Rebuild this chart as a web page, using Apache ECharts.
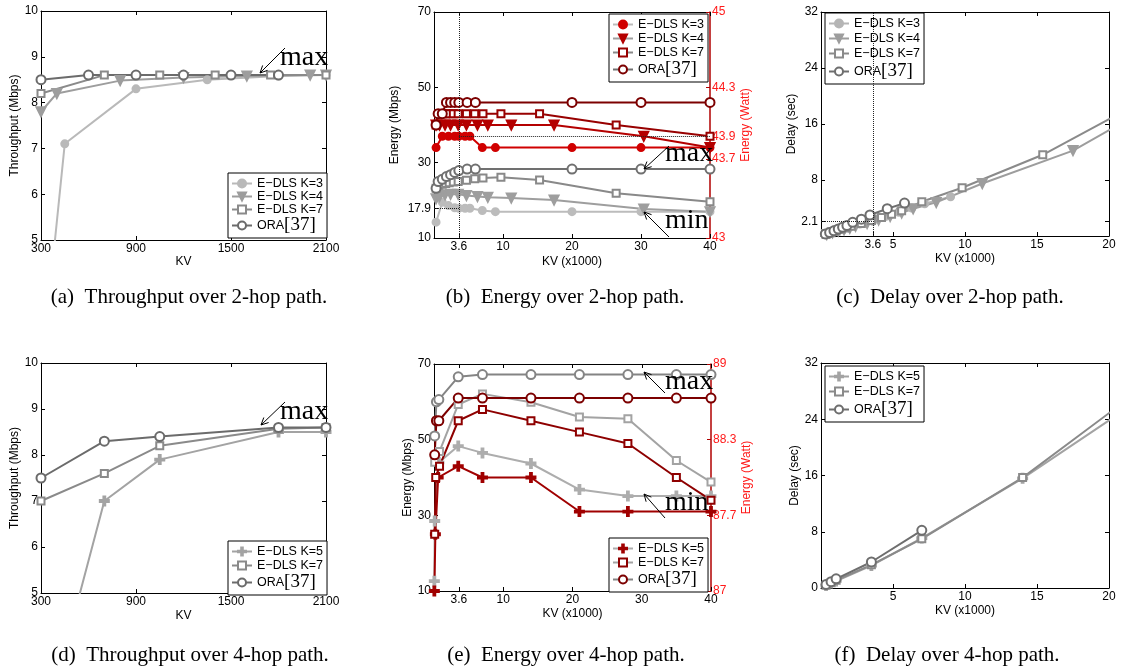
<!DOCTYPE html>
<html><head><meta charset="utf-8">
<script src="https://cdn.jsdelivr.net/npm/echarts@6/dist/echarts.min.js"></script>
<style>html,body{margin:0;padding:0;background:#fff}#c{width:1122px;height:670px}</style>
</head><body><div id="c"></div>
<script>
// ---------- names ----------
const N3 = 'E\u2212DLS K=3', N4 = 'E\u2212DLS K=4', N5 = 'E\u2212DLS K=5', N7 = 'E\u2212DLS K=7', NO = 'ORA[37]';

// ---------- (a) throughput 2-hop ----------
const a_K3_x = [300, 450, 900, 1350, 1800, 2100];
const a_K3_y = [2.0, 7.1, 8.3, 8.5, 8.58, 8.6];
const a_K4_x = [300, 400, 800, 1200, 1600, 2000, 2100];
const a_K4_y = [7.8, 8.2, 8.48, 8.55, 8.58, 8.6, 8.6];
const a_K7_x = [300, 700, 1050, 1400, 1750, 2100];
const a_K7_y = [8.2, 8.6, 8.6, 8.6, 8.6, 8.6];
const a_ORA_x = [300, 600, 900, 1200, 1500, 1800];
const a_ORA_y = [8.5, 8.6, 8.6, 8.6, 8.6, 8.6];

// ---------- (b) energy 2-hop (gray: left axis Mbps, red: right axis Watt) ----------
const b_K3_x = [0.3, 1.2, 2.1, 3.0, 3.6, 4.5, 5.2, 7.0, 8.9, 20, 30, 40];
const b_K3_g = [14.2, 19.5, 18.6, 18.0, 17.9, 17.9, 17.9, 17.3, 17.0, 17.0, 17.0, 17.0];
const b_K3_r = [43.8, 43.9, 43.9, 43.9, 43.9, 43.9, 43.9, 43.8, 43.8, 43.8, 43.8, 43.8];
const b_K4_x = [0.3, 0.8, 1.6, 2.4, 3.5, 4.7, 6.3, 7.8, 11.2, 17.4, 30.4, 40];
const b_K4_g = [20.4, 21.0, 21.5, 21.6, 21.6, 21.3, 21.0, 20.8, 20.6, 20.1, 17.7, 17.0];
const b_K4_r = [44.0, 44.0, 44.0, 44.0, 44.0, 44.0, 44.0, 44.0, 44.0, 44.0, 43.9, 43.8];
const b_K7_x = [0.3, 0.7, 1.2, 1.7, 2.2, 2.8, 3.5, 4.7, 5.9, 7.1, 9.7, 15.3, 26.4, 40];
const b_K7_g = [23.2, 24.0, 24.3, 24.5, 24.7, 24.9, 25.0, 25.3, 25.7, 25.9, 26.1, 25.4, 21.9, 19.6];
const b_K7_r = [44.0, 44.1, 44.1, 44.1, 44.1, 44.1, 44.1, 44.1, 44.1, 44.1, 44.1, 44.1, 44.0, 43.9];
const b_ORA_x = [0.3, 0.6, 1.2, 1.8, 2.4, 3.0, 3.6, 4.8, 6.0, 20, 30, 40];
const b_ORA_g = [23.2, 25.0, 25.6, 26.3, 26.8, 27.4, 27.9, 28.3, 28.3, 28.3, 28.3, 28.3];
const b_ORA_r = [44.0, 44.1, 44.1, 44.2, 44.2, 44.2, 44.2, 44.2, 44.2, 44.2, 44.2, 44.2];

// ---------- (c) delay 2-hop ----------
const c_K3_x = [0.3, 0.6, 0.9, 1.2, 1.5, 2.1, 2.7, 3.6, 4.5, 5.4, 6.3, 7.2, 9.0];
const c_K3_y = [0.2, 0.4, 0.6, 0.8, 1.0, 1.4, 1.7, 2.1, 2.8, 3.4, 4.0, 4.6, 5.6];
const c_K4_x = [0.4, 0.8, 1.2, 1.6, 2.0, 2.4, 3.2, 4.0, 4.8, 5.6, 6.4, 8.0, 11.2, 17.5, 22.4];
const c_K4_y = [0.2, 0.45, 0.7, 0.9, 1.1, 1.4, 1.8, 2.3, 2.8, 3.3, 3.9, 4.8, 7.5, 12.2, 17.9];
const c_K7_x = [0.35, 0.7, 1.05, 1.4, 1.75, 2.1, 2.8, 3.5, 4.2, 4.9, 5.6, 7.0, 9.8, 15.4, 21];
const c_K7_y = [0.2, 0.45, 0.7, 0.95, 1.15, 1.4, 1.8, 2.2, 2.65, 3.1, 3.6, 4.9, 6.9, 11.6, 17.8];
const c_ORA_x = [0.3, 0.6, 0.9, 1.2, 1.5, 1.8, 2.2, 2.8, 3.4, 4.6, 5.8];
const c_ORA_y = [0.3, 0.5, 0.75, 1.0, 1.25, 1.5, 1.95, 2.4, 3.0, 3.9, 4.7];

// ---------- (d) throughput 4-hop ----------
const d_K5_x = [300, 700, 1050, 1800, 2100];
const d_K5_y = [1.8, 7.0, 7.9, 8.5, 8.5];
const d_K7_x = [300, 700, 1050, 1800, 2100];
const d_K7_y = [7.0, 7.6, 8.2, 8.57, 8.6];
const d_ORA_x = [300, 700, 1050, 1800, 2100];
const d_ORA_y = [7.5, 8.3, 8.4, 8.6, 8.6];

// ---------- (e) energy 4-hop ----------
const e_K5_gx = [0.05, 0.1, 0.7, 3.5, 7, 14, 21, 28, 35, 40];
const e_K5_g = [12.6, 28.5, 44, 48.3, 46.5, 43.7, 36.8, 35.1, 35.1, 35.1];
const e_K5_rx = [0.05, 0.2, 0.6, 3.5, 7, 14, 21, 28, 40];
const e_K5_r = [87.0, 87.5, 88.0, 88.1, 88.0, 88.0, 87.7, 87.7, 87.7];
const e_K7_gx = [0.1, 0.8, 3.5, 7, 14, 21, 28, 35, 40];
const e_K7_g = [44, 46.9, 59.3, 62.1, 59.9, 56.0, 55.5, 44.5, 38.8];
const e_K7_rx = [0.1, 0.25, 0.8, 3.5, 7, 14, 21, 28, 35, 40];
const e_K7_r = [87.5, 88.0, 88.1, 88.5, 88.6, 88.5, 88.4, 88.3, 88.0, 87.8];
const e_ORA_x = [0.1, 0.35, 0.7, 3.5, 7, 14, 21, 28, 35, 40];
const e_ORA_g = [51, 60, 60.6, 66.6, 67.2, 67.2, 67.2, 67.2, 67.2, 67.2];
const e_ORA_r = [88.2, 88.5, 88.5, 88.7, 88.7, 88.7, 88.7, 88.7, 88.7, 88.7];

// ---------- (f) delay 4-hop ----------
const f_K5_x = [0.35, 0.7, 1.05, 3.5, 7, 14, 21];
const f_K5_y = [0.35, 0.7, 1.0, 3.2, 7.1, 15.6, 25.2];
const f_K7_x = [0.35, 0.7, 1.05, 3.5, 7, 14, 21];
const f_K7_y = [0.4, 0.75, 1.1, 3.3, 7.0, 15.7, 26.4];
const f_ORA_x = [0.35, 0.7, 1.05, 3.5, 7];
const f_ORA_y = [0.5, 0.9, 1.3, 3.7, 8.2];

// ---------- tick labels ----------
const tpX = [300, 900, 1500, 2100];
const tpY = [5, 6, 7, 8, 9, 10];
const enX = [3.6, 10, 20, 30, 40];
const b_Yl = [10, 17.9, 30, 50, 70];
const b_Yr = [43, 43.7, 43.9, 44 + 1 / 3, 45];
const e_Yl = [10, 30, 50, 70];
const e_Yr = [87, 87 + 2 / 3, 87 + 4 / 3, 89];
const c_X = [3.6, 5, 10, 15, 20];
const c_Y = [2.1, 8, 16, 24, 32];
const f_X = [5, 10, 15, 20];
const f_Y = [0, 8, 16, 24, 32];

const captions = ['(a)  Throughput over 2-hop path.', '(b)  Energy over 2-hop path.', '(c)  Delay over 2-hop path.',
  '(d)  Throughput over 4-hop path.', '(e)  Energy over 4-hop path.', '(f)  Delay over 4-hop path.'];

// ---------- styling ----------
const SANS = 'Liberation Sans', SERIF = 'Liberation Serif';
const RED_LAB = '#ff1a1a', RED_AX = '#b00000';
const PLUS = 'path://M4,0H6V4H10V6H6V10H4V6H0V4H4Z';
const SYM = {};
SYM[N3] = {symbol: 'circle', size: 7};
SYM[N4] = {symbol: 'triangle', size: 9, rot: 180};
SYM[N5] = {symbol: PLUS, size: 9};
SYM[N7] = {symbol: 'emptyRect', size: 7};
SYM[NO] = {symbol: 'emptyCircle', size: 9};

const grids = [
  {left: 41, top: 11, width: 285, height: 229},
  {left: 434, top: 12, width: 276, height: 226},
  {left: 821, top: 12, width: 288, height: 224},
  {left: 41, top: 363, width: 285, height: 230},
  {left: 434, top: 364, width: 277, height: 227},
  {left: 821, top: 363, width: 288, height: 225}
];

function fmt(v) { return Math.abs(v - Math.round(v)) < 1e-6 ? String(Math.round(v)) : v.toFixed(1); }
function pairs(xs, ys) { return xs.map((x, i) => [x, ys[i]]); }

const xAxes = [], yAxes = [];
function addX(p, min, max, ticks, name, gap) {
  const base = {gridIndex: p, type: 'value', min, max, splitLine: {show: false},
    axisLine: {show: true, onZero: false, lineStyle: {color: '#000', width: 1}},
    axisTick: {show: true, inside: true, length: 4, customValues: ticks, lineStyle: {color: '#000'}}};
  xAxes.push(Object.assign({}, base, {position: 'bottom', name, nameLocation: 'middle', nameGap: gap,
    nameTextStyle: {fontFamily: SANS, fontSize: 12, color: '#000'},
    axisLabel: {show: true, customValues: ticks, formatter: fmt, margin: 3, fontFamily: SANS, fontSize: 12, color: '#000'}}));
  xAxes.push(Object.assign({}, base, {position: 'top', axisLabel: {show: false}}));
}
function addY(p, min, max, ticks, name, gap, right) {
  const base = {gridIndex: p, type: 'value', min, max, splitLine: {show: false},
    axisLine: {show: true, onZero: false, lineStyle: {color: '#000', width: 1}},
    axisTick: {show: true, inside: true, length: 4, customValues: ticks, lineStyle: {color: '#000'}}};
  yAxes.push(Object.assign({}, base, {position: 'left', name, nameLocation: 'middle', nameGap: gap,
    nameTextStyle: {fontFamily: SANS, fontSize: 12, color: '#000'},
    axisLabel: {show: true, customValues: ticks, formatter: fmt, margin: 3, fontFamily: SANS, fontSize: 12, color: '#000'}}));
  if (right) {
    yAxes.push({gridIndex: p, type: 'value', position: 'right', min: right.min, max: right.max, splitLine: {show: false},
      name: 'Energy (Watt)', nameLocation: 'middle', nameGap: 29,
      nameTextStyle: {fontFamily: SANS, fontSize: 12, color: RED_LAB},
      axisLine: {show: true, onZero: false, lineStyle: {color: RED_AX, width: 1.5}},
      axisTick: {show: true, inside: true, length: 4, customValues: right.ticks, lineStyle: {color: RED_AX}},
      axisLabel: {show: true, customValues: right.ticks, formatter: fmt, margin: 2, fontFamily: SANS, fontSize: 12, color: RED_LAB}});
  } else {
    yAxes.push(Object.assign({}, base, {position: 'right', axisLabel: {show: false}}));
  }
}

addX(0, 300, 2100, tpX, 'KV', 14);          addY(0, 5, 10, tpY, 'Throughput (Mbps)', 20);
addX(1, 0, 40, enX, 'KV (x1000)', 18);      addY(1, 10, 70, b_Yl, 'Energy (Mbps)', 33, {min: 43, max: 45, ticks: b_Yr});
addX(2, 0, 20, c_X, 'KV (x1000)', 17);      addY(2, 0, 32, c_Y, 'Delay (sec)', 22);
addX(3, 300, 2100, tpX, 'KV', 17);          addY(3, 5, 10, tpY, 'Throughput (Mbps)', 20);
addX(4, 0, 40, enX, 'KV (x1000)', 17);      addY(4, 10, 70, e_Yl, 'Energy (Mbps)', 20, {min: 87, max: 89, ticks: e_Yr});
addX(5, 0, 20, f_X, 'KV (x1000)', 17);      addY(5, 0, 32, f_Y, 'Delay (sec)', 18);

const series = [];
function S(p, name, xs, ys, color, right, extra) {
  const s = SYM[name];
  const o = {type: 'line', name, xAxisIndex: 2 * p, yAxisIndex: 2 * p + (right ? 1 : 0),
    data: pairs(xs, ys), symbol: s.symbol, symbolSize: s.size, symbolRotate: s.rot || 0, showAllSymbol: true,
    clip: true, animation: false, silent: true,
    lineStyle: {color, width: 2}, itemStyle: {color, borderColor: color, borderWidth: 2},
    emphasis: {disabled: true}};
  series.push(Object.assign(o, extra || {}));
}
const DOT = {type: 'dotted', color: '#222', width: 1};
function ml(data) { return {markLine: {silent: true, symbol: 'none', animation: false, label: {show: false}, lineStyle: DOT, emphasis: {disabled: true}, data}}; }

// (a)
S(0, N3, a_K3_x, a_K3_y, '#b9b9b9');
S(0, N4, a_K4_x, a_K4_y, '#9d9d9d');
S(0, N7, a_K7_x, a_K7_y, '#8a8a8a');
S(0, NO, a_ORA_x, a_ORA_y, '#6b6b6b');
// (b)
S(1, N3, b_K3_x, b_K3_g, '#bcbcbc', false, ml([{xAxis: 3.6}, [{coord: [0, 17.9]}, {coord: [3.6, 17.9]}]]));
S(1, N4, b_K4_x, b_K4_g, '#9e9e9e');
S(1, N7, b_K7_x, b_K7_g, '#898989');
S(1, NO, b_ORA_x, b_ORA_g, '#707070');
S(1, N3, b_K3_x, b_K3_r, '#d00000', true, ml([[{coord: [3.6, 43.9]}, {coord: [40, 43.9]}]]));
S(1, N4, b_K4_x, b_K4_r, '#b40000', true);
S(1, N7, b_K7_x, b_K7_r, '#980000', true);
S(1, NO, b_ORA_x, b_ORA_r, '#7c0000', true);
// (c)
S(2, N3, c_K3_x, c_K3_y, '#b5b5b5', false, ml([{xAxis: 3.6}, [{coord: [0, 2.1]}, {coord: [3.6, 2.1]}]]));
S(2, N4, c_K4_x, c_K4_y, '#9d9d9d');
S(2, N7, c_K7_x, c_K7_y, '#8a8a8a');
S(2, NO, c_ORA_x, c_ORA_y, '#6e6e6e');
// (d)
S(3, N5, d_K5_x, d_K5_y, '#a3a3a3');
S(3, N7, d_K7_x, d_K7_y, '#8a8a8a');
S(3, NO, d_ORA_x, d_ORA_y, '#6b6b6b');
// (e)
S(4, N5, e_K5_gx, e_K5_g, '#adadad');
S(4, N7, e_K7_gx, e_K7_g, '#a3a3a3');
S(4, NO, e_ORA_x, e_ORA_g, '#848484');
S(4, N5, e_K5_rx, e_K5_r, '#a00000', true);
S(4, N7, e_K7_rx, e_K7_r, '#8e0000', true);
S(4, NO, e_ORA_x, e_ORA_r, '#7c0000', true);
// (f)
S(5, N5, f_K5_x, f_K5_y, '#a3a3a3');
S(5, N7, f_K7_x, f_K7_y, '#8a8a8a');
S(5, NO, f_ORA_x, f_ORA_y, '#6e6e6e');

// ---------- legends ----------
function legendFmt(name) {
  if (name === NO) return '{s|ORA}{t|[37]}';
  return '{s|' + name + '}';
}
function LG(left, top, items, gap) {
  return {left, top, orient: 'vertical', selectedMode: false, backgroundColor: '#fff',
    borderColor: '#000', borderWidth: 1, padding: [4, 4, 3, 3], itemGap: gap, itemWidth: 20, itemHeight: 10,
    formatter: legendFmt,
    textStyle: {color: '#000', rich: {
      s: {fontFamily: SANS, fontSize: 12.5, lineHeight: 14, color: '#000'},
      t: {fontFamily: SERIF, fontSize: 19, lineHeight: 14, color: '#000'}}},
    data: items};
}
function it(name, line, mark) { return {name, lineStyle: {color: line, width: 2}, itemStyle: {color: mark, borderColor: mark}}; }
const legends = [
  LG(228, 173, [it(N3, '#b9b9b9', '#b9b9b9'), it(N4, '#9d9d9d', '#9d9d9d'), it(N7, '#8a8a8a', '#8a8a8a'), it(NO, '#6b6b6b', '#6b6b6b')], 0),
  LG(609, 14, [it(N3, '#bcbcbc', '#d00000'), it(N4, '#9e9e9e', '#b40000'), it(N7, '#898989', '#980000'), it(NO, '#707070', '#7c0000')], 1),
  LG(825, 13, [it(N3, '#b5b5b5', '#b5b5b5'), it(N4, '#9d9d9d', '#9d9d9d'), it(N7, '#8a8a8a', '#8a8a8a'), it(NO, '#6e6e6e', '#6e6e6e')], 2),
  LG(228, 541, [it(N5, '#a3a3a3', '#a3a3a3'), it(N7, '#8a8a8a', '#8a8a8a'), it(NO, '#6b6b6b', '#6b6b6b')], 1),
  LG(609, 538, [it(N5, '#adadad', '#a00000'), it(N7, '#a3a3a3', '#8e0000'), it(NO, '#848484', '#7c0000')], 1),
  LG(825, 366, [it(N5, '#a3a3a3', '#a3a3a3'), it(N7, '#8a8a8a', '#8a8a8a'), it(NO, '#6e6e6e', '#6e6e6e')], 2)
];

// ---------- annotations ----------
const graphics = [];
function arrow(x0, y0, x1, y1) {
  const a = Math.atan2(y1 - y0, x1 - x0), L = 8, s = 0.45;
  graphics.push({type: 'line', silent: true, z: 100, shape: {x1: x0, y1: y0, x2: x1, y2: y1}, style: {stroke: '#000', lineWidth: 1}});
  graphics.push({type: 'polyline', silent: true, z: 100, shape: {points: [[x1 - L * Math.cos(a - s), y1 - L * Math.sin(a - s)], [x1, y1], [x1 - L * Math.cos(a + s), y1 - L * Math.sin(a + s)]]},
    style: {stroke: '#000', fill: null, lineWidth: 1}});
}
function word(t, x, y) {
  graphics.push({type: 'text', silent: true, z: 100, x, y, style: {text: t, fontFamily: SERIF, fontSize: 28, fill: '#000', align: 'left', verticalAlign: 'middle'}});
}
word('max', 280, 58); arrow(285, 48, 260, 73);
word('max', 665, 154); arrow(669, 146, 644, 169);
word('min', 665, 221); arrow(669, 237, 644, 212);
word('max', 280, 412); arrow(285, 402, 261, 425);
word('max', 665, 382); arrow(665, 393, 644, 372);
word('min', 665, 503); arrow(665, 518, 644, 494);

const capPos = [[189, 297], [565, 297], [950, 297], [190, 655], [566, 655], [947, 655]];
captions.forEach((t, i) => {
  graphics.push({type: 'text', silent: true, x: capPos[i][0], y: capPos[i][1],
    style: {text: t, fontFamily: SERIF, fontSize: 21, fill: '#000', align: 'center', verticalAlign: 'middle'}});
});

const chart = echarts.init(document.getElementById('c'), null, {renderer: 'canvas'});
chart.setOption({
  animation: false,
  backgroundColor: '#fff',
  grid: grids,
  xAxis: xAxes,
  yAxis: yAxes,
  legend: legends,
  series,
  graphic: graphics
});
</script></body></html>
